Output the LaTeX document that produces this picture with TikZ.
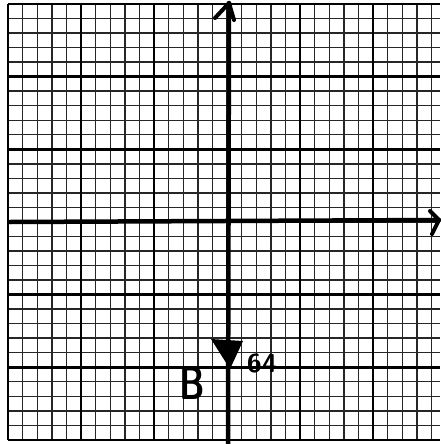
\documentclass[tikz,border=0pt]{standalone}
\begin{document}
\begin{tikzpicture}[x=1pt,y=-1pt,
  gridthin/.style={line width=1.4pt,black!85},
  gridthick/.style={line width=2.8pt,black},
  axisline/.style={line width=4.5pt,black,line cap=round,line join=round},
  headline/.style={line width=4pt,black,line cap=round,line join=round},
  lbl/.style={inner sep=0pt}]
\useasboundingbox (0,0) rectangle (440,444);
\fill[white] (0,0) rectangle (440,444);
\foreach \i in {0,1,...,29}{
  \draw[gridthin] ({8+14.6*\i},4) -- ({8+14.6*\i},440);
}
\foreach \j in {0,1,...,30}{
  \draw[gridthin] (8,{4+14.53*\j}) -- (440,{4+14.53*\j});
}
\foreach \i in {0,5,10,20,25}{
  \draw[gridthick] ({8+14.6*\i},4) -- ({8+14.6*\i},440);
}
\foreach \j in {0,5,10,20,25,30}{
  \draw[gridthick] (8,{4+14.53*\j}) -- (440,{4+14.53*\j});
}
\coordinate (ybot) at (228,444);
\coordinate (ytop) at (229,3);
\coordinate (xleft) at (10,222);
\coordinate (xright) at (439,220);
\draw[axisline] (ybot) -- (ytop);
\draw[axisline] (xleft) -- (xright);
\coordinate (tl) at (215,18);
\coordinate (tr) at (234,20);
\draw[headline] (tl) -- (ytop) -- (tr);
\coordinate (ru) at (430,211);
\coordinate (rd) at (432,234);
\draw[headline] (ru) -- (xright) -- (rd);
\coordinate (btl) at (211,339);
\coordinate (btr) at (243,341);
\coordinate (btip) at (230,369);
\fill[black] (btl) -- (btr) -- (btip) -- cycle;
\node[lbl,font=\sffamily\bfseries\fontsize{47}{47}\selectfont,xscale=0.74] (B) at (192,383) {B};
\node[lbl,font=\sffamily\bfseries\fontsize{26}{26}\selectfont,xscale=1.05] (m64) at (262,363) {64};
\end{tikzpicture}
\end{document}
